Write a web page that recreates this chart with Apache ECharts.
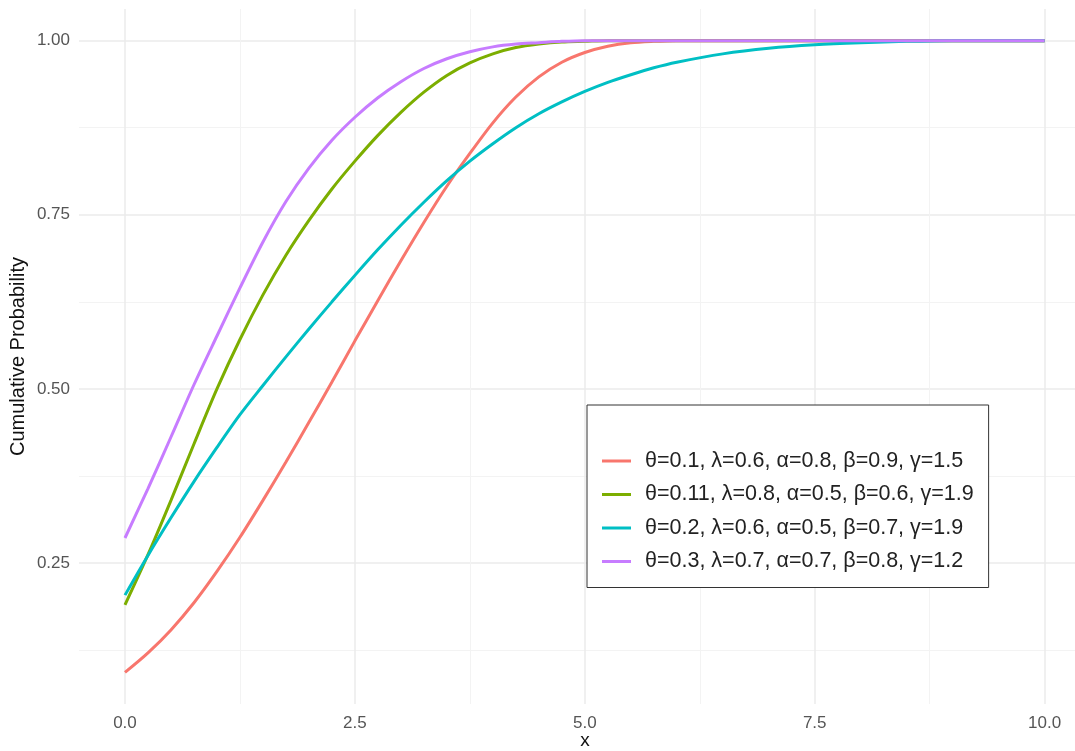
<!DOCTYPE html>
<html>
<head>
<meta charset="utf-8">
<script src="https://cdn.jsdelivr.net/npm/echarts@6/dist/echarts.min.js"></script>
<style>
  html, body { margin: 0; padding: 0; background: #fff; }
  #chart { width: 1075px; height: 751px; }
</style>
</head>
<body>
<div id="chart"></div>
<script>
const xs = [0, 0.25, 0.5, 0.75, 1, 1.25, 1.5, 1.75, 2, 2.25, 2.5, 2.75, 3, 3.25, 3.5, 3.75, 4, 4.25, 4.5, 4.75, 5, 5.25, 5.5, 5.75, 6, 6.5, 7, 7.5, 8, 8.5, 9, 9.5, 10];

const redVals = [0.093, 0.121, 0.154, 0.193, 0.238, 0.287, 0.34, 0.395, 0.452, 0.51, 0.569, 0.627, 0.684, 0.739, 0.791, 0.838, 0.882, 0.919, 0.948, 0.969, 0.983, 0.992, 0.997, 0.999, 1, 1, 1, 1, 1, 1, 1, 1, 1];
const greenVals = [0.19, 0.262, 0.34, 0.421, 0.5, 0.571, 0.635, 0.692, 0.742, 0.787, 0.827, 0.864, 0.897, 0.926, 0.95, 0.968, 0.981, 0.99, 0.995, 0.998, 0.999, 1, 1, 1, 1, 1, 1, 1, 1, 1, 1, 1, 1];
const cyanVals = [0.204, 0.261, 0.315, 0.367, 0.416, 0.463, 0.505, 0.546, 0.586, 0.625, 0.663, 0.7, 0.735, 0.768, 0.799, 0.827, 0.852, 0.875, 0.895, 0.912, 0.927, 0.94, 0.951, 0.961, 0.969, 0.981, 0.989, 0.994, 0.997, 0.999, 1, 1, 1];
const purpleVals = [0.286, 0.357, 0.431, 0.506, 0.576, 0.645, 0.711, 0.769, 0.817, 0.857, 0.89, 0.918, 0.941, 0.96, 0.974, 0.984, 0.991, 0.995, 0.997, 0.999, 1, 1, 1, 1, 1, 1, 1, 1, 1, 1, 1, 1, 1];

const seriesNames = [
  'θ=0.1, λ=0.6, α=0.8, β=0.9, γ=1.5',
  'θ=0.11, λ=0.8, α=0.5, β=0.6, γ=1.9',
  'θ=0.2, λ=0.6, α=0.5, β=0.7, γ=1.9',
  'θ=0.3, λ=0.7, α=0.7, β=0.8, γ=1.2'
];
const colors = ['#F8766D', '#7CAE00', '#00BFC4', '#C77CFF'];

const xMajor = [0, 2.5, 5, 7.5, 10];
const xMinor = [1.25, 3.75, 6.25, 8.75];
const yMajor = [0.25, 0.5, 0.75, 1];
const yMinor = [0.125, 0.375, 0.625, 0.875];

const font = '"Liberation Sans", Arial, sans-serif';

const pairs = vals => xs.map((x, i) => [x, vals[i]]);
const allVals = [redVals, greenVals, cyanVals, purpleVals];

const chart = echarts.init(document.getElementById('chart'));

// panel runs a bit past the right edge of the picture (cropped), so max is > 10.5
const xBase = { type: 'value', min: -0.5, max: 10.33, gridIndex: 0 };
const yBase = { type: 'value', min: 0.0477, max: 1.0454, gridIndex: 0 };

chart.setOption({
  animation: false,
  textStyle: { fontFamily: font },
  grid: { left: 79, right: 0, top: 9, bottom: 47, containLabel: false, outerBoundsMode: 'none' },
  legend: {
    orient: 'vertical',
    left: 587,
    top: 405,
    padding: [44, 15, 14, 15],
    itemWidth: 29,
    itemHeight: 3,
    itemGap: 9.5,
    icon: 'rect',
    selectedMode: false,
    borderColor: '#333',
    borderWidth: 1,
    backgroundColor: '#fff',
    textStyle: { fontSize: 21.5, color: '#222', lineHeight: 24, padding: [0, 0, 0, 9], fontFamily: font },
    data: seriesNames
  },
  xAxis: [
    Object.assign({}, xBase, {
      name: 'x',
      nameLocation: 'middle',
      nameGap: 27,
      nameMoveOverlap: false,
      nameTextStyle: { fontSize: 19, color: '#111', padding: [0, 0, 0, 16], fontFamily: font },
      axisLine: { show: false, onZero: false },
      axisTick: { show: false, customValues: xMajor },
      axisLabel: { customValues: xMajor, color: '#555', fontSize: 17, margin: 11, formatter: v => v.toFixed(1) },
      splitLine: { show: true, lineStyle: { color: '#ebebeb', width: 1.5 } }
    }),
    Object.assign({}, xBase, {
      axisLine: { show: false, onZero: false },
      axisTick: { show: false, customValues: xMinor },
      axisLabel: { show: false },
      splitLine: { show: true, lineStyle: { color: '#f3f3f3', width: 1 } }
    })
  ],
  yAxis: [
    Object.assign({}, yBase, {
      name: 'Cumulative Probability',
      nameLocation: 'middle',
      nameGap: 51,
      nameMoveOverlap: false,
      nameTextStyle: { fontSize: 20, color: '#111', fontFamily: font },
      axisLine: { show: false, onZero: false },
      axisTick: { show: false, customValues: yMajor },
      axisLabel: { customValues: yMajor, color: '#555', fontSize: 17, margin: 9, formatter: v => v.toFixed(2) },
      splitLine: { show: true, lineStyle: { color: '#ebebeb', width: 1.5 } }
    }),
    Object.assign({}, yBase, {
      position: 'left',
      axisLine: { show: false, onZero: false },
      axisTick: { show: false, customValues: yMinor },
      axisLabel: { show: false },
      splitLine: { show: true, lineStyle: { color: '#f3f3f3', width: 1 } }
    })
  ],
  series: seriesNames.map((name, i) => ({
    name: name,
    type: 'line',
    xAxisIndex: 0,
    yAxisIndex: 0,
    data: pairs(allVals[i]),
    showSymbol: false,
    symbol: 'none',
    smooth: 0.3,
    color: colors[i],
    lineStyle: { width: 3, color: colors[i] }
  }))
});
</script>
</body>
</html>
